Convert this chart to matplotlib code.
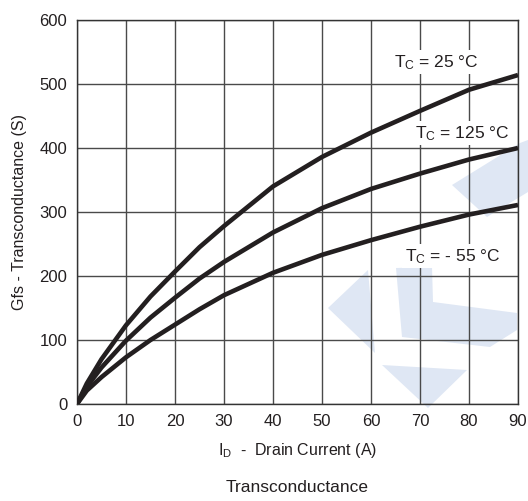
#!/usr/bin/env python3

import matplotlib
matplotlib.use('agg')
from matplotlib import pyplot as plt
from matplotlib.patches import Polygon

plt.rcParams['font.family'] = ['Liberation Sans', 'DejaVu Sans']
plt.rcParams['mathtext.fontset'] = 'custom'
plt.rcParams['mathtext.rm'] = 'Liberation Sans'
plt.rcParams['mathtext.it'] = 'Liberation Sans'

# drain current (A)
i_d = [0, 2, 5, 10, 15, 20, 25, 30, 40, 50, 60, 70, 80, 90]
# transconductance (S) per case temperature
gfs_25 = [0, 32, 70, 123, 168, 207, 245, 278, 340, 386, 424, 458, 491, 514]
gfs_125 = [0, 27, 57, 99, 135, 166, 196, 222, 268, 306, 336, 360, 382, 400]
gfs_m55 = [0, 21, 42, 73, 100, 124, 148, 170, 205, 233, 256, 277, 296, 311]

curve_labels = [r'T$_\mathregular{C}$ = 25 °C',
                r'T$_\mathregular{C}$ = 125 °C',
                r'T$_\mathregular{C}$ = - 55 °C']
label_pos = [(73.4, 534), (78.6, 423), (76.7, 231)]

x_ticks = list(range(0, 91, 10))
y_ticks = list(range(0, 601, 100))

# faint background logo, in figure pixels
logo = [
    [(328, 308), (368, 270), (375, 353)],
    [(382, 365), (467, 370), (428, 408)],
    [(396, 268), (432, 267), (433, 302), (517, 313), (517, 330), (490, 347), (402, 337)],
    [(452, 185), (520, 143), (528, 140), (528, 192), (487, 217)],
]

fig = plt.figure(figsize=(5.28, 5.01), dpi=100)
W, H = 528, 501
for poly in logo:
    pts = [(x / W, 1 - y / H) for x, y in poly]
    fig.patches.append(Polygon(pts, closed=True, transform=fig.transFigure,
                               facecolor='#dfe7f4', edgecolor='none', zorder=-1))

ax = fig.add_axes([77 / W, 1 - 404 / H, (518 - 77) / W, (404 - 20) / H])
ax.patch.set_alpha(0)

for ys in (gfs_25, gfs_125, gfs_m55):
    ax.plot(i_d, ys, color='#231f20', lw=3.3, solid_capstyle='butt', zorder=3)

for txt, (x, y) in zip(curve_labels, label_pos):
    ax.text(x, y, txt, fontsize=12.5, ha='center', va='center', color='#231f20',
            bbox=dict(facecolor='white', edgecolor='none', pad=2), zorder=4)

ax.set_xlim(0, 90)
ax.set_ylim(0, 600)
ax.set_xticks(x_ticks)
ax.set_yticks(y_ticks)
ax.tick_params(length=0, labelsize=12, colors='#231f20', pad=7)
ax.grid(True, color='#4a4a4a', lw=1.0, zorder=1)
for s in ax.spines.values():
    s.set_color('#333333')
    s.set_linewidth(1.0)

ax.set_xlabel(r'I$_\mathregular{D}$  -  Drain Current (A)', fontsize=11.5,
              color='#231f20', labelpad=9)
ax.set_ylabel('Gfs - Transconductance (S)', fontsize=11.5, color='#231f20',
              labelpad=9)
fig.text(297 / W, 1 - 488 / H, 'Transconductance', fontsize=12.5,
         ha='center', va='center', color='#231f20')

plt.savefig('out.png', dpi=100)
